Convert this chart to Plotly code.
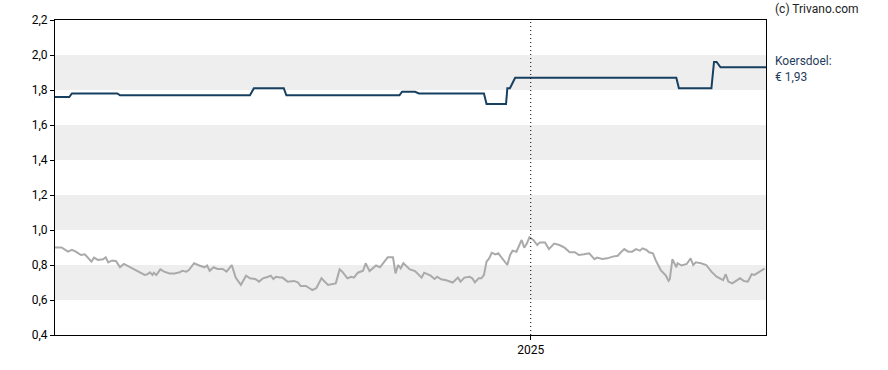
import plotly.graph_objects as go

# ---- data -----------------------------------------------------------------
target_dates = [
    "2024-01-01", "2024-01-12", "2024-01-14", "2024-02-18", "2024-02-20",
    "2024-05-30", "2024-06-02", "2024-06-25", "2024-06-27", "2024-09-22",
    "2024-09-24", "2024-10-04", "2024-10-07", "2024-11-26", "2024-11-28",
    "2024-12-13", "2024-12-14", "2024-12-16", "2024-12-20", "2025-04-23",
    "2025-04-25", "2025-05-20", "2025-05-22", "2025-05-24", "2025-05-27",
    "2025-07-01",
]
target_values = [
    1.76, 1.76, 1.78, 1.78, 1.77,
    1.77, 1.81, 1.81, 1.77, 1.77,
    1.79, 1.79, 1.78, 1.78, 1.72,
    1.72, 1.81, 1.81, 1.87, 1.87,
    1.81, 1.81, 1.96, 1.96, 1.93,
    1.93,
]

price_dates = [
    "2024-01-01", "2024-01-06", "2024-01-11", "2024-01-14", "2024-01-17",
    "2024-01-21", "2024-01-24", "2024-01-29", "2024-01-31", "2024-02-03",
    "2024-02-07", "2024-02-09", "2024-02-11", "2024-02-14", "2024-02-17",
    "2024-02-20", "2024-02-23", "2024-02-27", "2024-03-02", "2024-03-06",
    "2024-03-10", "2024-03-12", "2024-03-14", "2024-03-16", "2024-03-17",
    "2024-03-19", "2024-03-22", "2024-03-25", "2024-03-29", "2024-04-02",
    "2024-04-06", "2024-04-08", "2024-04-11", "2024-04-13", "2024-04-17",
    "2024-04-21", "2024-04-25", "2024-04-27", "2024-04-29", "2024-05-02",
    "2024-05-05", "2024-05-09", "2024-05-12", "2024-05-16", "2024-05-18",
    "2024-05-19", "2024-05-23", "2024-05-27", "2024-05-30", "2024-06-03",
    "2024-06-06", "2024-06-09", "2024-06-13", "2024-06-15", "2024-06-17",
    "2024-06-19", "2024-06-22", "2024-06-24", "2024-06-28", "2024-07-01",
    "2024-07-03", "2024-07-06", "2024-07-08", "2024-07-12", "2024-07-17",
    "2024-07-20", "2024-07-24", "2024-07-29", "2024-08-04", "2024-08-07",
    "2024-08-09", "2024-08-13", "2024-08-16", "2024-08-18", "2024-08-21",
    "2024-08-25", "2024-08-27", "2024-08-30", "2024-09-04", "2024-09-07",
    "2024-09-10", "2024-09-13", "2024-09-17", "2024-09-19", "2024-09-21",
    "2024-09-23", "2024-09-25", "2024-09-30", "2024-10-04", "2024-10-06",
    "2024-10-09", "2024-10-11", "2024-10-14", "2024-10-16", "2024-10-19",
    "2024-10-21", "2024-10-24", "2024-10-28", "2024-11-02", "2024-11-06",
    "2024-11-08", "2024-11-11", "2024-11-15", "2024-11-17", "2024-11-19",
    "2024-11-22", "2024-11-24", "2024-11-26", "2024-11-28", "2024-11-30",
    "2024-12-02", "2024-12-05", "2024-12-07", "2024-12-10", "2024-12-14",
    "2024-12-16", "2024-12-18", "2024-12-21", "2024-12-25", "2024-12-27",
    "2024-12-29", "2024-12-31", "2025-01-03", "2025-01-06", "2025-01-08",
    "2025-01-12", "2025-01-15", "2025-01-19", "2025-01-23", "2025-01-27",
    "2025-01-31", "2025-02-04", "2025-02-07", "2025-02-11", "2025-02-15",
    "2025-02-19", "2025-02-21", "2025-02-25", "2025-03-01", "2025-03-05",
    "2025-03-09", "2025-03-11", "2025-03-14", "2025-03-17", "2025-03-20",
    "2025-03-23", "2025-03-26", "2025-03-28", "2025-03-31", "2025-04-02",
    "2025-04-05", "2025-04-07", "2025-04-11", "2025-04-15", "2025-04-17",
    "2025-04-18", "2025-04-20", "2025-04-23", "2025-04-24", "2025-04-27",
    "2025-05-01", "2025-05-04", "2025-05-06", "2025-05-08", "2025-05-12",
    "2025-05-16", "2025-05-20", "2025-05-24", "2025-05-28", "2025-05-29",
    "2025-05-31", "2025-06-02", "2025-06-05", "2025-06-08", "2025-06-11",
    "2025-06-14", "2025-06-17", "2025-06-20", "2025-06-22", "2025-06-24",
    "2025-06-27", "2025-06-30",
]
price_values = [
    0.900, 0.900, 0.876, 0.886, 0.876,
    0.857, 0.861, 0.819, 0.842, 0.829,
    0.833, 0.844, 0.815, 0.826, 0.822,
    0.787, 0.806, 0.791, 0.777, 0.758,
    0.743, 0.747, 0.758, 0.743, 0.756,
    0.743, 0.775, 0.762, 0.752, 0.752,
    0.758, 0.767, 0.762, 0.771, 0.810,
    0.797, 0.787, 0.797, 0.767, 0.787,
    0.777, 0.777, 0.762, 0.800, 0.752,
    0.728, 0.686, 0.739, 0.724, 0.720,
    0.705, 0.724, 0.733, 0.739, 0.720,
    0.733, 0.728, 0.728, 0.705, 0.705,
    0.709, 0.700, 0.680, 0.680, 0.657,
    0.667, 0.724, 0.686, 0.695, 0.775,
    0.762, 0.724, 0.733, 0.728, 0.756,
    0.767, 0.810, 0.765, 0.797, 0.787,
    0.815, 0.844, 0.844, 0.752, 0.800,
    0.781, 0.810, 0.775, 0.765, 0.752,
    0.728, 0.756, 0.743, 0.739, 0.720,
    0.733, 0.718, 0.713, 0.700, 0.728,
    0.705, 0.728, 0.733, 0.724, 0.701,
    0.724, 0.724, 0.743, 0.819, 0.838,
    0.870, 0.861, 0.867, 0.838, 0.800,
    0.855, 0.882, 0.876, 0.943, 0.899,
    0.922, 0.958, 0.943, 0.914, 0.929,
    0.929, 0.891, 0.922, 0.914, 0.899,
    0.873, 0.873, 0.857, 0.861, 0.867,
    0.833, 0.842, 0.834, 0.838, 0.848,
    0.853, 0.870, 0.891, 0.876, 0.876,
    0.891, 0.882, 0.895, 0.886, 0.873,
    0.867, 0.829, 0.771, 0.739, 0.710,
    0.720, 0.833, 0.787, 0.810, 0.797,
    0.806, 0.838, 0.800, 0.815, 0.810,
    0.800, 0.762, 0.733, 0.714, 0.714,
    0.747, 0.705, 0.695, 0.708, 0.724,
    0.708, 0.705, 0.747, 0.743, 0.752,
    0.767, 0.780,
]

y_tick_values = [0.4, 0.6, 0.8, 1.0, 1.2, 1.4, 1.6, 1.8, 2.0, 2.2]
x_tick_values = ["2025-01-01"]
x_tick_labels = ["2025"]
bands = [(0.6, 0.8), (1.0, 1.2), (1.4, 1.6), (1.8, 2.0)]
x_range = ["2024-01-01", "2025-07-01"]
year_marker = "2025-01-01"

# ---- figure ---------------------------------------------------------------
NAVY = "#173f5f"
fig = go.Figure()

fig.add_trace(go.Scatter(
    x=price_dates, y=price_values, mode="lines",
    line=dict(color="#aaaaaa", width=2), hoverinfo="skip",
))
fig.add_trace(go.Scatter(
    x=target_dates, y=target_values, mode="lines",
    line=dict(color=NAVY, width=2), hoverinfo="skip",
))

for lo, hi in bands:
    fig.add_shape(type="rect", xref="paper", yref="y", x0=0, x1=1, y0=lo, y1=hi,
                  fillcolor="#eeeeee", line=dict(width=0), layer="below")

fig.add_shape(type="line", xref="x", yref="paper", x0=year_marker, x1=year_marker,
              y0=0, y1=1, line=dict(color="#000000", width=1, dash="1px,3px"))

last_target = f"{target_values[-1]:.2f}".replace(".", ",")
fig.add_annotation(xref="paper", yref="paper", x=1.0, y=0.843, xshift=7,
                   xanchor="left", yanchor="middle", align="left", showarrow=False,
                   text=f"Koersdoel:<br>€ {last_target}",
                   font=dict(family="Roboto", size=12, color="#1f3d5c"))
fig.add_annotation(xref="paper", yref="paper", x=1.0, y=1.035, xshift=7,
                   xanchor="left", yanchor="middle", showarrow=False,
                   text="(c) Trivano.com",
                   font=dict(family="Roboto", size=12, color="#222222"))

fig.update_layout(
    width=888, height=370,
    margin=dict(l=55, r=122, t=20, b=35, autoexpand=False),
    paper_bgcolor="white", plot_bgcolor="white",
    showlegend=False,
    separators=",.",
    font=dict(family="Roboto", size=12, color="#000000"),
)
fig.update_xaxes(
    type="date", range=x_range,
    tickvals=x_tick_values, ticktext=x_tick_labels,
    showgrid=False, zeroline=False,
    showline=True, linecolor="#000000", linewidth=1, mirror=True,
    ticks="outside", ticklen=4, tickcolor="#000000",
    tickfont=dict(family="Roboto", size=12, color="#000000"),
)
fig.update_yaxes(
    range=[0.4, 2.2], tickvals=y_tick_values, tickformat=".1f",
    showgrid=False, zeroline=False,
    showline=True, linecolor="#000000", linewidth=1, mirror=True,
    ticks="outside", ticklen=4, tickcolor="#000000",
    tickfont=dict(family="Roboto", size=12, color="#000000"),
)

fig.write_html(
    "out.html",
    config={"displayModeBar": False},
    post_script="document.body.style.margin='0';document.body.style.overflow='hidden';",
)
